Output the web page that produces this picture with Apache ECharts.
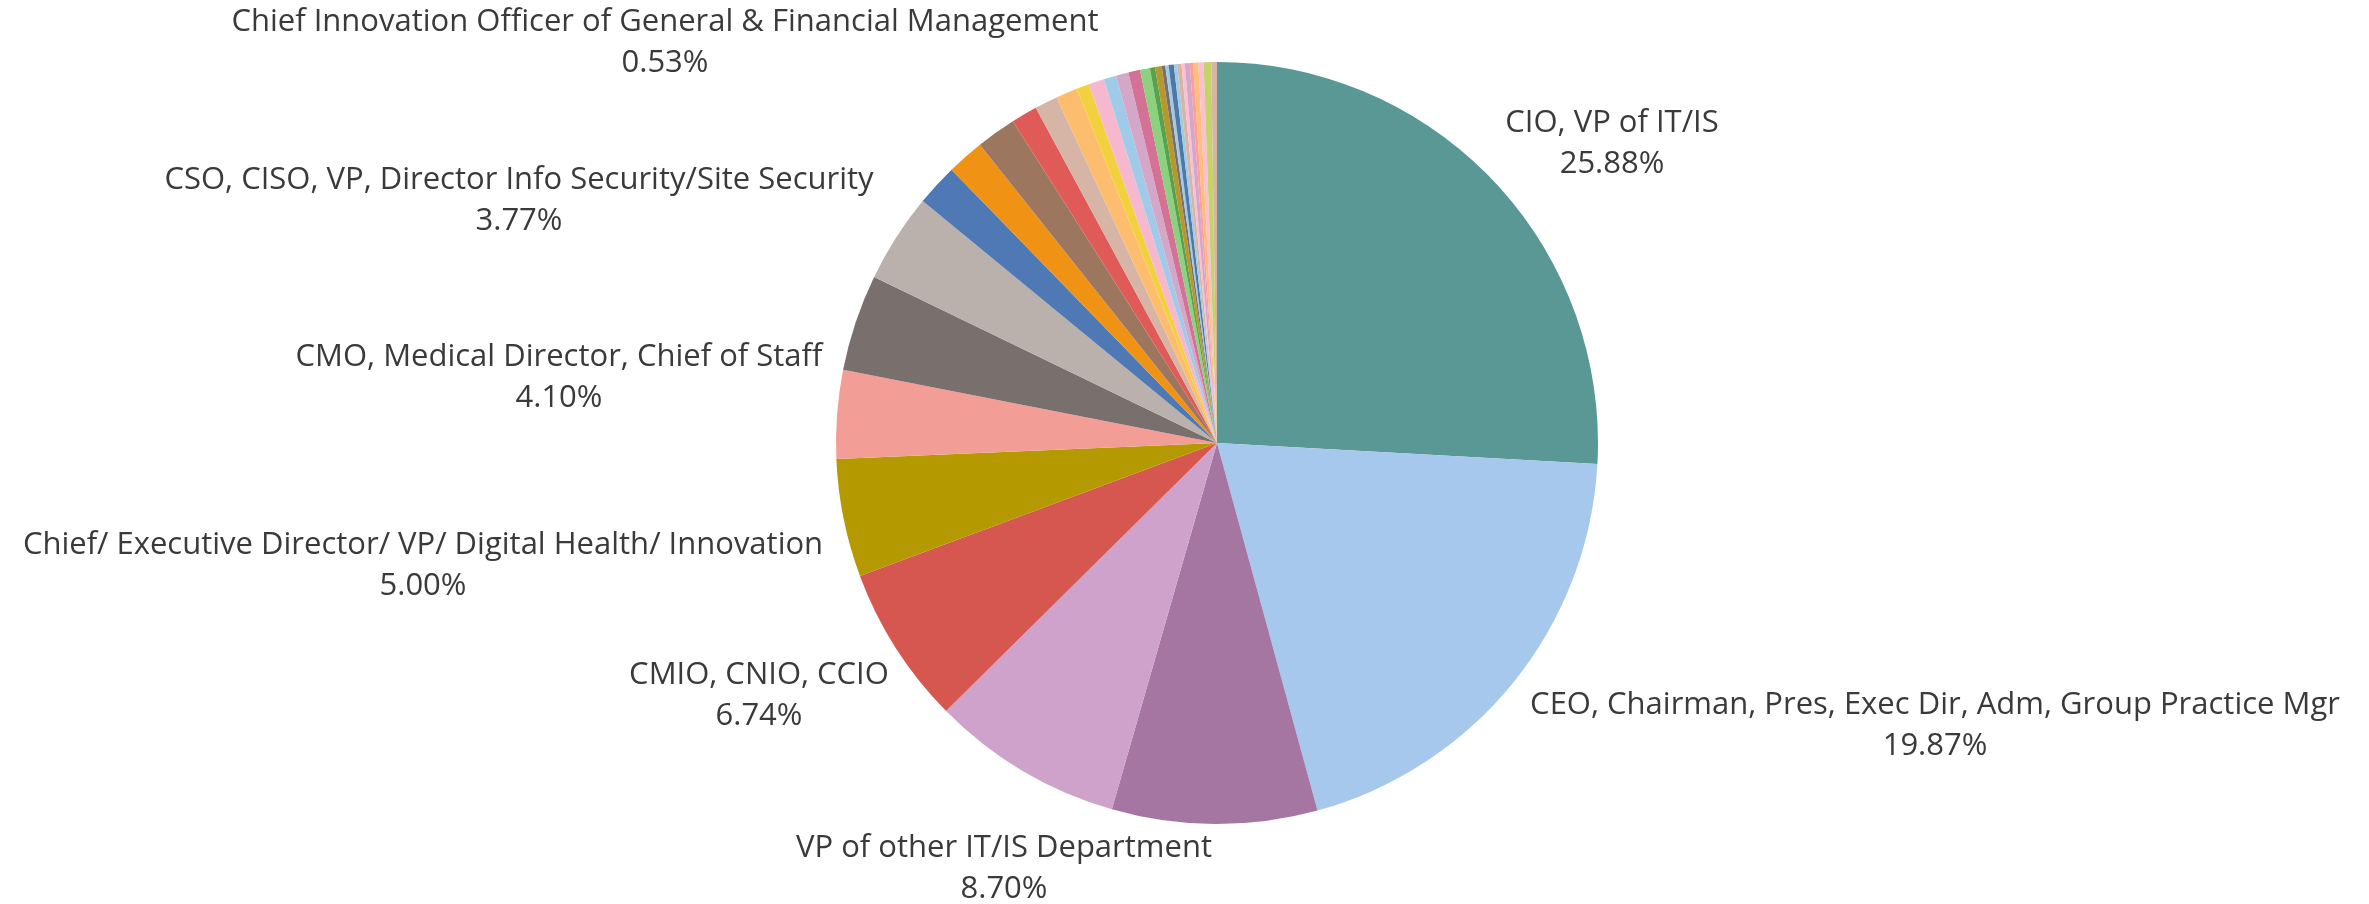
<!DOCTYPE html>
<html>
<head>
<meta charset="utf-8">
<script src="https://cdn.jsdelivr.net/npm/echarts@6/dist/echarts.min.js"></script>
<style>
html, body { margin: 0; padding: 0; background: #fff; }
#main { width: 2369px; height: 904px; }
</style>
</head>
<body>
<div id="main"></div>
<script>
// job titles, clockwise from 12 o'clock
var titles = [
	'CIO, VP of IT/IS',
	'CEO, Chairman, Pres, Exec Dir, Adm, Group Practice Mgr',
	'VP of other IT/IS Department',
	'Other IT/IS Staff',
	'CMIO, CNIO, CCIO',
	'Chief/ Executive Director/ VP/ Digital Health/ Innovation',
	'Other Clinical Leadership',
	'CMO, Medical Director, Chief of Staff',
	'CSO, CISO, VP, Director Info Security/Site Security',
	'Other 1', 'Other 2', 'Other 3', 'Other 4', 'Other 5', 'Other 6',
	'Chief Innovation Officer of General & Financial Management',
	'Other 7', 'Other 8', 'Other 9', 'Other 10', 'Other 11', 'Other 12', 'Other 13',
	'Other 14', 'Other 15', 'Other 16', 'Other 17', 'Other 18', 'Other 19',
	'Other 20', 'Other 21', 'Other 22', 'Other 23', 'Other 24', 'Other 25'
];
// share in percent
var shares = [
	25.88, 19.87, 8.70, 8.14, 6.74, 5.00, 3.75, 4.10, 3.77,
	1.78, 1.58, 1.69, 1.11, 0.97, 0.92, 0.53,
	0.67, 0.53, 0.53, 0.50, 0.42, 0.22, 0.28,
	0.15, 0.14, 0.22, 0.14, 0.18, 0.14, 0.21, 0.14, 0.22, 0.22, 0.32, 0.24
];
// only these slices carry a label
var labelled = [
	'CIO, VP of IT/IS',
	'CEO, Chairman, Pres, Exec Dir, Adm, Group Practice Mgr',
	'VP of other IT/IS Department',
	'CMIO, CNIO, CCIO',
	'Chief/ Executive Director/ VP/ Digital Health/ Innovation',
	'CMO, Medical Director, Chief of Staff',
	'CSO, CISO, VP, Director Info Security/Site Security',
	'Chief Innovation Officer of General & Financial Management'
];

var colors = [
	'#599894', '#a5c8ec', '#a676a3', '#cea2ca', '#d65750', '#b49a00', '#f29d96', '#79706e', '#bab0ac',
	'#4e79b4', '#f09214', '#9d7660', '#e05a57', '#d7b5a6', '#fcbd6e', '#f2d13f',
	'#f6b8cf', '#a0cbe8', '#d4a6c8', '#d37295', '#8cd17d', '#59a14f', '#b6992d',
	'#79706e', '#a0cbe8', '#4e79a7', '#a0cbe8', '#d7b5a6', '#fabfd2', '#d4a6c8',
	'#ff9d9a', '#ffbe7d', '#fabfd2', '#c4d36a', '#d7b5a6'
];

// where the text blocks sit (centre of the two lines)
var labelSpot = {
	'CIO, VP of IT/IS': [1612, 144],
	'CEO, Chairman, Pres, Exec Dir, Adm, Group Practice Mgr': [1935, 726],
	'VP of other IT/IS Department': [1004, 869],
	'CMIO, CNIO, CCIO': [759, 696],
	'Chief/ Executive Director/ VP/ Digital Health/ Innovation': [423, 566],
	'CMO, Medical Director, Chief of Staff': [559, 378],
	'CSO, CISO, VP, Director Info Security/Site Security': [519, 201],
	'Chief Innovation Officer of General & Financial Management': [665, 43]
};

var chart = echarts.init(document.getElementById('main'));

chart.setOption({
	animation: false,
	series: [{
		type: 'pie',
		center: [1217, 443],
		radius: 381,
		startAngle: 90,
		clockwise: true,
		avoidLabelOverlap: false,
		color: colors,
		itemStyle: {
			borderWidth: 0
		},
		label: {
			show: true,
			position: 'outside',
			formatter: function(p) {
				return p.name + '\n' + p.value.toFixed(2) + '%';
			},
			fontFamily: 'Open Sans',
			fontSize: 31,
			lineHeight: 41,
			color: '#3a3a3a',
			align: 'center'
		},
		labelLine: {
			show: false
		},
		labelLayout: function(p) {
			var spot = labelSpot[titles[p.dataIndex]];
			if(!spot) return {};
			return {
				x: spot[0],
				y: spot[1],
				align: 'center',
				verticalAlign: 'middle'
			};
		},
		data: titles.map(function(t, i) {
			var item = { name: t, value: shares[i] };
			if(labelled.indexOf(t) < 0) {
				item.label = { show: false };
			}
			return item;
		})
	}]
});
</script>
</body>
</html>
